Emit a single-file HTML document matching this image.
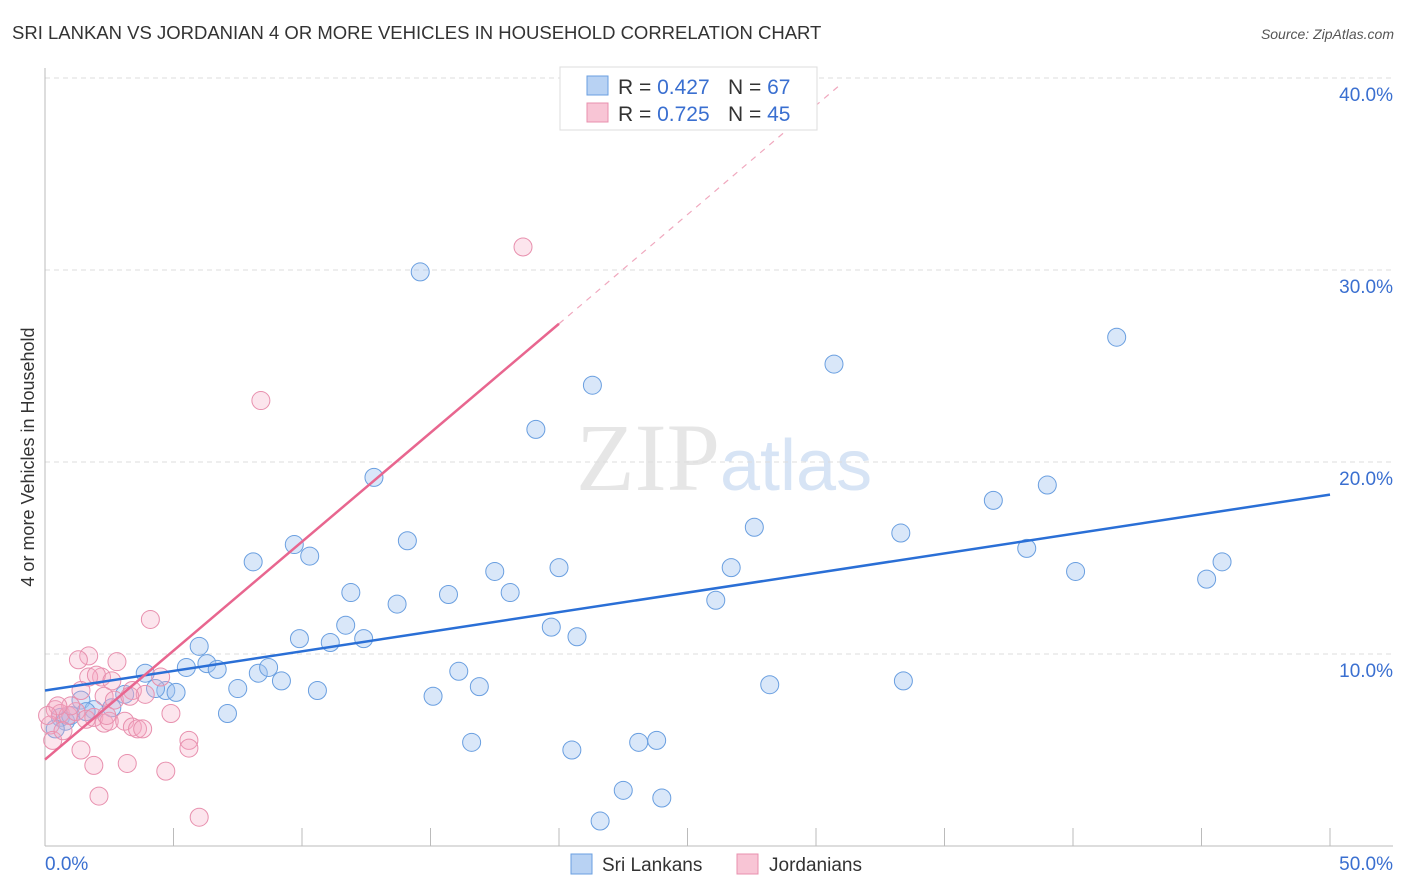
<!DOCTYPE html>
<html><head><meta charset="utf-8"><style>
body{margin:0;background:#fff;font-family:"Liberation Sans",sans-serif}
svg{display:block}
</style></head><body>
<svg id="c" width="1406" height="892">
<text x="12" y="39" font-size="18.5" fill="#333">SRI LANKAN VS JORDANIAN 4 OR MORE VEHICLES IN HOUSEHOLD CORRELATION CHART</text>
<text x="1394" y="39" font-size="14" fill="#555" font-style="italic" text-anchor="end">Source: ZipAtlas.com</text>
<text x="720" y="490" font-size="96" fill="#e6e6e6" font-family="Liberation Serif" text-anchor="end">ZIP</text>
<text x="720" y="490" font-size="72" fill="#d7e4f5" text-anchor="start">atlas</text>
<g id="grid"></g><g id="axes"></g><g id="pts"></g><g id="lines"></g>
<text transform="translate(34,457) rotate(-90)" font-size="18" fill="#333" text-anchor="middle">4 or more Vehicles in Household</text>
<g>
<rect x="560" y="67" width="257" height="63" fill="#fff" stroke="#ddd"/>
<rect x="587" y="76" width="21" height="19" fill="#b8d2f3" stroke="#6a9fe0"/>
<rect x="587" y="103" width="21" height="19" fill="#f8c5d5" stroke="#e890ae"/>
<text x="618" y="94" font-size="21" fill="#333">R = <tspan fill="#3a6fd0">0.427</tspan></text>
<text x="728" y="94" font-size="21" fill="#333">N = <tspan fill="#3a6fd0">67</tspan></text>
<text x="618" y="121" font-size="21" fill="#333">R = <tspan fill="#3a6fd0">0.725</tspan></text>
<text x="728" y="121" font-size="21" fill="#333">N = <tspan fill="#3a6fd0">45</tspan></text>
</g>
<g>
<rect x="571" y="854" width="21" height="20" fill="#b8d2f3" stroke="#6a9fe0"/>
<text x="602" y="871" font-size="19" fill="#333">Sri Lankans</text>
<rect x="737" y="854" width="21" height="20" fill="#f8c5d5" stroke="#e890ae"/>
<text x="769" y="871" font-size="19" fill="#333">Jordanians</text>
</g>
</svg>
<script>
const blueX=[14.6,21.3,19.1,30.7,41.7,12.8,36.9,39.0,8.1,9.7,10.3,14.1,27.6,33.3,38.2,40.1,45.2,45.8,11.9,13.7,15.7,17.5,18.1,20.0,26.7,26.1,11.7,9.9,11.1,12.4,19.7,20.7,6.0,5.5,6.3,6.7,8.3,8.7,9.2,3.9,4.7,5.1,7.5,10.6,16.1,16.9,15.1,28.2,33.4,7.1,16.6,20.5,23.1,23.8,22.5,24.0,21.6,1.4,1.9,2.6,3.1,4.3,0.6,0.8,1.0,0.4,1.6];
const blueY=[29.9,24.0,21.7,25.1,26.5,19.2,18.0,18.8,14.8,15.7,15.1,15.9,16.6,16.3,15.5,14.3,13.9,14.8,13.2,12.6,13.1,14.3,13.2,14.5,14.5,12.8,11.5,10.8,10.6,10.8,11.4,10.9,10.4,9.3,9.5,9.2,9.0,9.3,8.6,9.0,8.1,8.0,8.2,8.1,9.1,8.3,7.8,8.4,8.6,6.9,5.4,5.0,5.4,5.5,2.9,2.5,1.3,7.6,7.1,7.2,7.9,8.2,6.7,6.5,6.8,6.1,7.0];
const pinkX=[18.6,8.4,4.1,1.7,1.3,2.8,2.2,1.7,1.4,2.0,2.6,3.4,2.3,3.9,4.5,4.9,0.4,0.6,0.9,1.2,1.6,1.9,2.3,2.5,3.1,3.4,3.6,3.8,5.6,5.6,1.4,1.9,3.2,4.7,2.1,6.0,0.2,0.3,0.7,1.0,2.7,2.4,3.3,0.5,0.1];
const pinkY=[31.2,23.2,11.8,9.9,9.7,9.6,8.8,8.8,8.1,8.9,8.6,8.1,7.8,7.9,8.8,6.9,7.1,6.9,6.8,7.0,6.6,6.7,6.4,6.5,6.5,6.2,6.1,6.1,5.5,5.1,5.0,4.2,4.3,3.9,2.6,1.5,6.3,5.5,6.0,7.3,7.6,6.8,7.8,7.3,6.8];
const yTicks=[10,20,30,40];
const yTickLabels=["10.0%","20.0%","30.0%","40.0%"];
const xTicks=[0,5,10,15,20,25,30,35,40,45,50];
const blueTrend=[[0,8.1],[50,18.3]];
const pinkTrend=[[0,4.5],[20,27.2]];
const pinkTrendDash=[[20,27.2],[30.9,39.6]];
const NS="http://www.w3.org/2000/svg";
const X=v=>45+v*25.7, Y=v=>846-v*19.2;
function mk(p,t,a){const e=document.createElementNS(NS,t);for(const k in a)e.setAttribute(k,a[k]);document.getElementById(p).appendChild(e);return e;}
yTicks.forEach((v,i)=>{
 const g=mk('grid','line',{x1:45,x2:1393,y1:Y(v),y2:Y(v),stroke:'#ddd','stroke-dasharray':'5,4'});
 
 
 const t=mk('axes','text',{x:1393,y:Y(v)+23,'font-size':19,fill:'#3a6fd0','text-anchor':'end'});
 t.textContent=yTickLabels[i];
 
 
});
let a=mk('axes','line',{x1:45,x2:45,y1:68,y2:846,stroke:'#bbb'});


a=mk('axes','line',{x1:45,x2:1393,y1:846,y2:846,stroke:'#bbb'});


xTicks.forEach(v=>{const t=mk('axes','line',{x1:X(v),x2:X(v),y1:828,y2:846,stroke:'#bbb'});
 
 });
let l=mk('axes','text',{x:45,y:870,'font-size':19,fill:'#3a6fd0'});l.textContent='0.0%';


l=mk('axes','text',{x:1393,y:870,'font-size':19,fill:'#3a6fd0','text-anchor':'end'});l.textContent='50.0%';


blueX.forEach((x,i)=>{const c=mk('pts','circle',{cx:X(x),cy:Y(blueY[i]),r:9,fill:'rgba(160,196,240,0.4)',stroke:'#6a9fe0','stroke-width':1});
 
 });
pinkX.forEach((x,i)=>{const c=mk('pts','circle',{cx:X(x),cy:Y(pinkY[i]),r:9,fill:'rgba(245,170,195,0.3)',stroke:'#e890ae','stroke-width':1});
 
 });
let t=mk('lines','line',{x1:X(blueTrend[0][0]),y1:Y(blueTrend[0][1]),x2:X(blueTrend[1][0]),y2:Y(blueTrend[1][1]),stroke:'#2a6fd6','stroke-width':2.5});


t=mk('lines','line',{x1:X(pinkTrend[0][0]),y1:Y(pinkTrend[0][1]),x2:X(pinkTrend[1][0]),y2:Y(pinkTrend[1][1]),stroke:'#e8668f','stroke-width':2.5});


t=mk('lines','line',{x1:X(pinkTrendDash[0][0]),y1:Y(pinkTrendDash[0][1]),x2:X(pinkTrendDash[1][0]),y2:Y(pinkTrendDash[1][1]),stroke:'#f0a8be','stroke-width':1.2,'stroke-dasharray':'6,6'});


</script>
</body></html>
